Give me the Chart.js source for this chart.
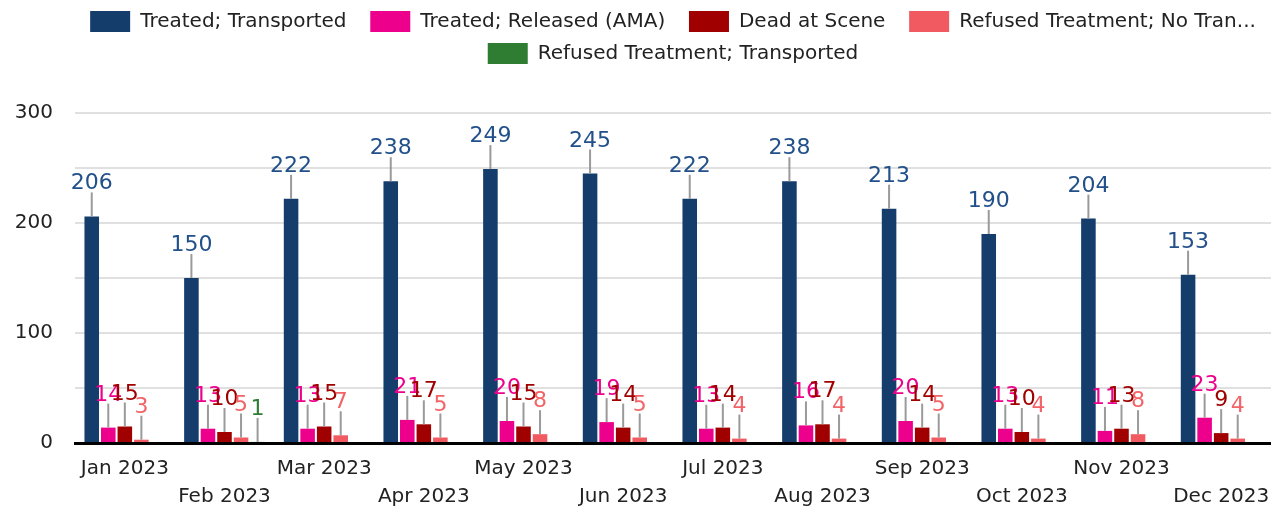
<!DOCTYPE html>
<html>
<head>
<meta charset="utf-8">
<script src="https://cdn.jsdelivr.net/npm/chart.js@4"></script>
<style>
  html, body { margin: 0; padding: 0; background: #fff; }
  #wrap { width: 1271px; height: 510px; position: relative; }
</style>
</head>
<body>
<div id="wrap"><canvas id="myChart"></canvas></div>
<script>
/* data */
const months = ['Jan 2023', 'Feb 2023', 'Mar 2023', 'Apr 2023', 'May 2023', 'Jun 2023',
    'Jul 2023', 'Aug 2023', 'Sep 2023', 'Oct 2023', 'Nov 2023', 'Dec 2023'];
const treatedTransported = [206, 150, 222, 238, 249, 245, 222, 238, 213, 190, 204, 153];
const treatedReleased = [14, 13, 13, 21, 20, 19, 13, 16, 20, 13, 11, 23];
const deadAtScene = [15, 10, 15, 17, 15, 14, 14, 17, 14, 10, 13, 9];
const refusedNoTransport = [3, 5, 7, 5, 8, 5, 4, 4, 5, 4, 8, 4];
const refusedTransported = [null, 1, null, null, null, null, null, null, null, null, null, null];
const seriesNames = ['Treated; Transported', 'Treated; Released (AMA)', 'Dead at Scene',
    'Refused Treatment; No Transport', 'Refused Treatment; Transported'];

const barColors = ['#143d6b', '#ec008c', '#a00000', '#f05a60', '#2e7d32'];
const labelColors = ['#22508a', '#ec008c', '#a00000', '#f26468', '#2e7d32'];
const FONT = '"DejaVu Sans", sans-serif';

// value labels with a grey leader line
const leaderLabels = {
    id: 'leaderLabels',
    afterDatasetsDraw(chart) {
        const ctx = chart.ctx;
        chart.data.datasets.forEach((ds, i) => {
            const meta = chart.getDatasetMeta(i);
            if (meta.hidden) return;
            meta.data.forEach((bar, j) => {
                const v = ds.data[j];
                if (v == null) return;
                const top = Math.min(bar.y, bar.base);
                ctx.save();
                ctx.strokeStyle = '#9a9a9a';
                ctx.lineWidth = 2;
                ctx.beginPath();
                ctx.moveTo(bar.x, top);
                ctx.lineTo(bar.x, top - 24);
                ctx.stroke();
                ctx.fillStyle = labelColors[i];
                ctx.font = '22px ' + FONT;
                ctx.textAlign = 'center';
                ctx.textBaseline = 'alphabetic';
                ctx.fillText(String(v), bar.x, top - 27);
                ctx.restore();
            });
        });
    }
};

// legend: leave room under it
const legendSpace = {
    id: 'legendSpace',
    beforeInit(chart) {
        const fit = chart.legend.fit;
        chart.legend.fit = function () {
            const w = this.maxWidth;
            this.maxWidth = Math.max(w, 1240);
            fit.call(this);
            this.maxWidth = w;
            this.width = w;
            this.height += 39;
        };
    }
};

const allData = [treatedTransported, treatedReleased, deadAtScene, refusedNoTransport, refusedTransported];

const ctx = document.getElementById('myChart');
const data = {
    labels: months,
    datasets: allData.map((arr, i) => ({
        label: seriesNames[i],
        data: arr,
        backgroundColor: barColors[i],
        borderWidth: 0,
        categoryPercentage: 0.83,
        barPercentage: 0.88
    }))
};

const config = {
    type: 'bar',
    data: data,
    options: {
        responsive: false,
        animation: false,
        layout: { padding: { left: 13, right: 0, top: 0, bottom: 0 } },
        plugins: {
            tooltip: { enabled: false },
            legend: {
                position: 'top',
                fullSize: false,
                labels: {
                    boxWidth: 40,
                    boxHeight: 21,
                    padding: 11,
                    color: '#222',
                    font: { family: FONT, size: 20 },
                    generateLabels(chart) {
                        const items = Chart.defaults.plugins.legend.labels.generateLabels(chart);
                        items.forEach((it, i) => {
                            if (i === 3) it.text = 'Refused Treatment; No Tran...';
                            else if (i < 3) it.text = it.text + '  ';
                        });
                        return items;
                    }
                }
            }
        },
        scales: {
            x: {
                grid: { display: false, drawTicks: false },
                border: { display: true, color: '#000', width: 3 },
                ticks: {
                    color: '#222',
                    autoSkip: false,
                    maxRotation: 0,
                    padding: 12,
                    font: { family: FONT, size: 20, lineHeight: 1.4 },
                    callback: function (v, i) {
                        return i % 2 ? ['', months[i]] : months[i];
                    }
                },
                afterFit: s => {
                    s.height = 67;
                    s.paddingRight = 0;
                    s.paddingLeft = 0;
                }
            },
            y: {
                min: 0,
                max: 300,
                grid: { color: '#e0e0e0', lineWidth: 2, drawTicks: false },
                border: { display: false },
                ticks: {
                    stepSize: 50,
                    padding: 22,
                    color: '#222',
                    font: { family: FONT, size: 20 },
                    callback: v => (v % 100 === 0 ? v : '')
                },
                afterFit: s => { s.width = 62; }
            }
        }
    },
    plugins: [leaderLabels, legendSpace]
};

const canvas = document.getElementById('myChart');
canvas.width = 1271;
canvas.height = 510;
const chart = new Chart(ctx, config);
</script>
</body>
</html>
